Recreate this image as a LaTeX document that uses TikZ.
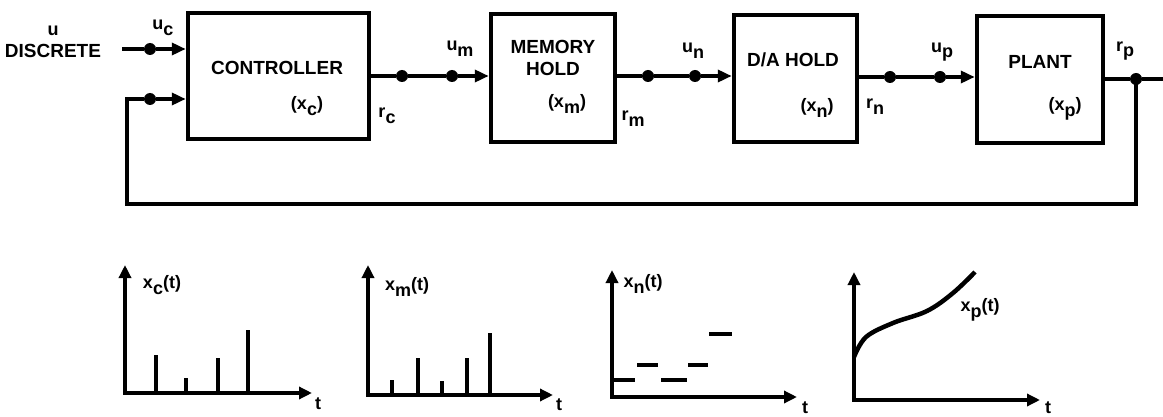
\documentclass[tikz,border=0pt]{standalone}
\usepackage{fontspec}
\setmainfont{Liberation Sans}
\usetikzlibrary{arrows.meta}
\newcommand{\lo}[1]{\raisebox{-0.6ex}{#1}}
\begin{document}
\begin{tikzpicture}[x=1pt,y=-1pt,
  blk/.style={draw, line width=4.5pt, inner sep=0pt},
  sig/.style={line width=3.5pt},
  arr/.style={sig, -{Triangle[length=14pt,width=12pt]}},
  dot/.style={circle, fill, inner sep=0pt, minimum size=12pt},
  lbl/.style={font=\bfseries\fontsize{18}{18}\selectfont, inner sep=0pt},
  big/.style={font=\bfseries\fontsize{19}{22}\selectfont, inner sep=0pt, align=center},
  axis/.style={line width=3.5pt, line join=miter, {Triangle[length=13pt,width=12pt]}-{Triangle[length=13pt,width=12pt]}},
  spike/.style={line width=3.5pt},
  seg/.style={line width=4.5pt}]
\useasboundingbox (0,0) rectangle (1163,417);

% blocks
\node[blk, minimum width=181pt, minimum height=126pt] (ctrl) at (278.5,76) {};
\node[blk, minimum width=124pt, minimum height=128pt] (mem) at (553,78) {};
\node[blk, minimum width=123pt, minimum height=127pt] (da) at (795.5,78.5) {};
\node[blk, minimum width=126pt, minimum height=127pt] (plant) at (1040,79.5) {};

% block texts
\node[big] (tctrl) at (277,68) {CONTROLLER};
\node[lbl] (xc) at (307,106) {(x\lo{c})};
\node[big] (tmem) at (553,58) {MEMORY\\HOLD};
\node[lbl] (xm) at (567,104) {(x\lo{m})};
\node[big] (tda) at (793,60) {D/A HOLD};
\node[lbl] (xn) at (817,108) {(x\lo{n})};
\node[big] (tplant) at (1040,62) {PLANT};
\node[lbl] (xp) at (1065,109) {(x\lo{p})};

% input labels
\node[big] (disc) at (53,51) {DISCRETE};
\node[lbl] (u) at (53,31) {u};
\node[lbl] (uc) at (163,28) {u\lo{c}};
\node[lbl] (rc) at (387,116) {r\lo{c}};
\node[lbl] (um) at (460,49) {u\lo{m}};
\node[lbl] (rm) at (633,119) {r\lo{m}};
\node[lbl] (un) at (693,51) {u\lo{n}};
\node[lbl] (rn) at (875,107) {r\lo{n}};
\node[lbl] (up) at (942,52) {u\lo{p}};
\node[lbl] (rp) at (1125,51) {r\lo{p}};

% dots and connectors
\coordinate (in) at (122,49);
\node[dot] (dc1) at (150,49) {};
\node[dot] (dc2) at (150,99) {};
\node[dot] (dm1) at (402,76) {};
\node[dot] (dm2) at (452,76) {};
\node[dot] (dn1) at (648,76) {};
\node[dot] (dn2) at (695,76) {};
\node[dot] (dp1) at (890,77) {};
\node[dot] (dp2) at (940,77) {};
\node[dot] (jp) at (1136,79) {};
\coordinate (out) at (1163,79);
\coordinate (fb1) at (1136,204);
\coordinate (fb2) at (127,204);

\draw[sig] (in) -- (dc1);
\draw[arr] (dc1) -- (dc1 -| ctrl.west);
\draw[arr] (dc2) -- (dc2 -| ctrl.west);
\draw[sig] (ctrl.east |- dm1) -- (dm1) -- (dm2);
\draw[arr] (dm2) -- (dm2 -| mem.west);
\draw[sig] (mem.east |- dn1) -- (dn1) -- (dn2);
\draw[arr] (dn2) -- (dn2 -| da.west);
\draw[sig] (da.east |- dp1) -- (dp1) -- (dp2);
\draw[arr] (dp2) -- (dp2 -| plant.west);
\draw[sig] (plant.east |- jp) -- (jp) -- (out);
\draw[sig, line join=miter] (jp.center) -- (fb1) -- (fb2) |- (dc2);

% plot 1
\draw[axis] (125,265) -- (125,393) -- (312,393);
\draw[spike] (156,393) -- (156,355);
\draw[spike] (186,393) -- (186,378);
\draw[spike] (218,393) -- (218,358);
\draw[spike] (248,393) -- (248,330);
\node[lbl] (l1) at (162,285) {x\lo{c}(t)};
\node[lbl] (t1) at (318,404) {t};

% plot 2
\draw[axis] (368,265) -- (368,395) -- (553,395);
\draw[spike] (392,395) -- (392,380);
\draw[spike] (418,395) -- (418,358);
\draw[spike] (442,395) -- (442,381);
\draw[spike] (467,395) -- (467,358);
\draw[spike] (490,395) -- (490,333);
\node[lbl] (l2) at (407,287) {x\lo{m}(t)};
\node[lbl] (t2) at (559,405) {t};

% plot 3
\draw[axis] (612,270) -- (612,397) -- (797,397);
\draw[seg] (612,380) -- (635,380);
\draw[seg] (637,365) -- (658,365);
\draw[seg] (661,380) -- (687,380);
\draw[seg] (688,365) -- (708,365);
\draw[seg] (709,334) -- (732,334);
\node[lbl] (l3) at (643,284) {x\lo{n}(t)};
\node[lbl] (t3) at (805,408) {t};

% plot 4
\draw[axis] (854,272) -- (854,400) -- (1040,400);
\draw[line width=4.5pt] plot[smooth, tension=0.6] coordinates {(854,357) (866,337) (893,323) (927,311) (953,293) (975,272)};
\node[lbl] (l4) at (980,310) {x\lo{p}(t)};
\node[lbl] (t4) at (1048,408) {t};
\end{tikzpicture}
\end{document}
